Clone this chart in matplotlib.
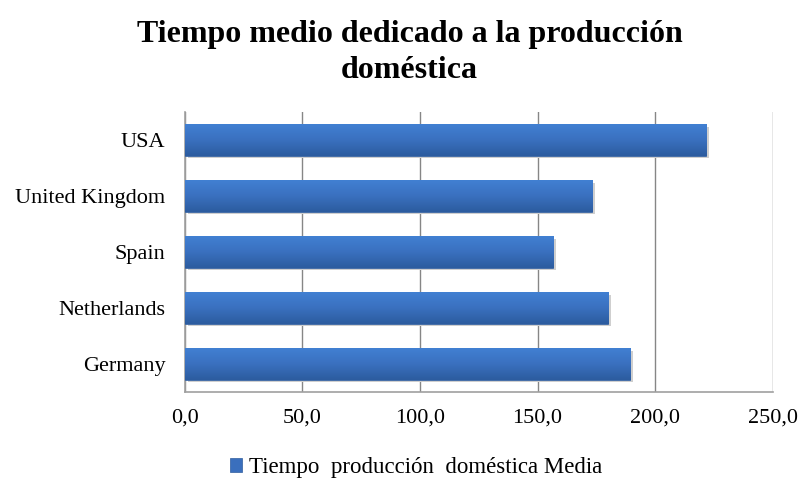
import numpy as np
import matplotlib.pyplot as plt
from matplotlib.colors import LinearSegmentedColormap

countries = ["Germany", "Netherlands", "Spain", "United Kingdom", "USA"]
tiempo_media = [189.3, 180.0, 156.5, 173.3, 221.8]
xticks = [0, 50, 100, 150, 200, 250]
xtick_labels = ["0,0", "50,0", "100,0", "150,0", "200,0", "250,0"]

plt.rcParams['font.family'] = ['Liberation Serif', 'DejaVu Serif']

fig = plt.figure(figsize=(8, 4.79), dpi=100)
ax = fig.add_axes([0.231, 0.1816, 0.735, 0.584])

y = np.arange(len(countries))
h = 0.56
# soft shadow under each bar
ax.barh(y - 0.04, tiempo_media, height=h, left=1.2, color='#cfcfcf', zorder=2)
bars = ax.barh(y, tiempo_media, height=h, color='#3a6fbd', edgecolor='#2f5d9e',
               linewidth=0.5, zorder=3, label="Tiempo  producción  doméstica Media")

# vertical gradient inside each bar (lighter top, darker bottom)
grad = LinearSegmentedColormap.from_list('g', ['#2c5c9f', '#3a70bf', '#4180d2'])
ramp = np.linspace(0, 1, 64).reshape(-1, 1)
for yi, v in zip(y, tiempo_media):
    ax.imshow(ramp, cmap=grad, origin='lower', aspect='auto', zorder=3.5,
              extent=(0, v, yi - h / 2, yi + h / 2), interpolation='bilinear')

ax.set_xlim(0, 250)
ax.set_ylim(-0.5, len(countries) - 0.5)
ax.set_xticks(xticks)
ax.set_xticklabels(xtick_labels, fontsize=16)
ax.set_yticks(y)
ax.set_yticklabels(countries, fontsize=16)
ax.tick_params(axis='x', length=0, pad=12)
ax.tick_params(axis='y', length=0, pad=14)

ax.grid(axis='x', color='#868686', linewidth=1, zorder=1)
for s in ['top', 'right']:
    ax.spines[s].set_visible(False)
for s in ['left', 'bottom']:
    ax.spines[s].set_color('#a0a0a0')
    ax.spines[s].set_linewidth(1.2)

fig.text(0.512, 0.89, "Tiempo medio dedicado a la producción\ndoméstica",
         ha='center', va='center', fontsize=23, fontweight='bold', linespacing=1.3)

fig.legend(loc='center', bbox_to_anchor=(0.52, 0.024), frameon=False, fontsize=16.5,
           handlelength=0.55, handleheight=0.55, handletextpad=0.3)

fig.savefig("out.png", dpi=100)
